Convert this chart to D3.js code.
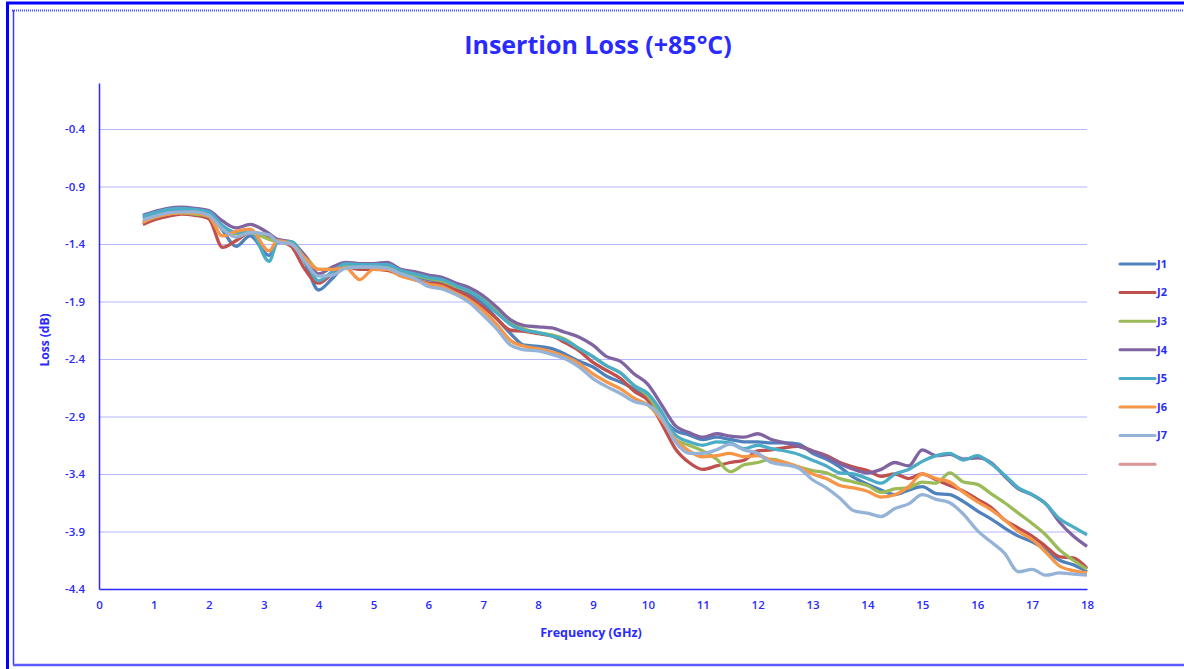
<html>
  <script src="https://d3js.org/d3.v7.min.js"></script>
  <style>
    body,
    html {
      margin: 0;
      padding: 0;
      background: white;
    }
    text {
      font-family: "Open Sans", sans-serif;
      fill: #2a2aff;
    }
  </style>
  <body>
    <svg id="chart" width="1184" height="669"></svg>
    <script>
      // frequency points (GHz) the curves were read at
      const freqs = [
        0.8, 1.0, 1.25, 1.5, 1.75, 2.0, 2.25, 2.5, 2.75, 3.1, 3.25, 3.5, 3.75,
        4.0, 4.25, 4.5, 4.75, 5.0, 5.25, 5.5, 5.75, 6.0, 6.25, 6.5, 6.75, 7.0,
        7.25, 7.5, 7.75, 8.0, 8.25, 8.5, 8.75, 9.0, 9.25, 9.5, 9.75, 10.0,
        10.25, 10.5, 10.75, 11.0, 11.25, 11.5, 11.75, 12.0, 12.25, 12.5, 12.75,
        13.0, 13.25, 13.5, 13.75, 14.0, 14.25, 14.5, 14.75, 15.0, 15.25, 15.5,
        15.75, 16.0, 16.25, 16.5, 16.75, 17.0, 17.25, 17.5, 17.75, 18.0,
      ];

      const j1 = [
        -1.17, -1.14, -1.11, -1.1, -1.1, -1.13, -1.28, -1.42, -1.33, -1.5,
        -1.38, -1.39, -1.56, -1.8, -1.7, -1.59, -1.59, -1.59, -1.6, -1.65,
        -1.68, -1.71, -1.73, -1.78, -1.84, -1.92, -2.05, -2.18, -2.28, -2.29,
        -2.31, -2.36, -2.42, -2.47, -2.55, -2.6, -2.66, -2.75, -2.9, -3.02,
        -3.06, -3.1, -3.08, -3.1, -3.12, -3.12, -3.13, -3.13, -3.14, -3.22,
        -3.27, -3.34, -3.43, -3.49, -3.54, -3.58, -3.54, -3.51, -3.57, -3.58,
        -3.64, -3.72, -3.79, -3.87, -3.94, -3.99, -4.06, -4.15, -4.19, -4.25,
      ];
      const j2 = [
        -1.23, -1.19, -1.16, -1.14, -1.15, -1.18, -1.43, -1.37, -1.3, -1.33,
        -1.37, -1.42, -1.62, -1.74, -1.66, -1.6, -1.62, -1.62, -1.63, -1.67,
        -1.71, -1.74, -1.75, -1.8, -1.86, -1.95, -2.05, -2.15, -2.16, -2.18,
        -2.2, -2.26, -2.33, -2.43, -2.5, -2.57, -2.68, -2.76, -2.96, -3.18,
        -3.3, -3.36, -3.33, -3.3, -3.28, -3.2, -3.19, -3.17, -3.16, -3.2,
        -3.24, -3.3, -3.34, -3.37, -3.42, -3.4, -3.44, -3.4, -3.45, -3.5,
        -3.55, -3.62, -3.69, -3.8, -3.87, -3.94, -4.03, -4.12, -4.13, -4.22,
      ];
      const j3 = [
        -1.21, -1.17, -1.14, -1.13, -1.14, -1.16, -1.27, -1.31, -1.3, -1.36,
        -1.38, -1.4, -1.5, -1.62, -1.62, -1.59, -1.6, -1.6, -1.6, -1.64,
        -1.67, -1.7, -1.72, -1.77, -1.81, -1.88, -1.98, -2.08, -2.14, -2.17,
        -2.19, -2.23, -2.31, -2.38, -2.46, -2.52, -2.63, -2.72, -2.9, -3.1,
        -3.15, -3.2, -3.27, -3.38, -3.32, -3.3, -3.27, -3.3, -3.34, -3.37,
        -3.39, -3.44, -3.47, -3.5, -3.56, -3.53, -3.52, -3.47, -3.48, -3.39,
        -3.47, -3.49, -3.57, -3.65, -3.74, -3.83, -3.93, -4.06, -4.15, -4.23,
      ];
      const j4 = [
        -1.15, -1.12, -1.09, -1.08, -1.09, -1.11, -1.2, -1.26, -1.23, -1.31,
        -1.36, -1.38, -1.5, -1.66, -1.6, -1.56, -1.57, -1.57, -1.56, -1.62,
        -1.64, -1.67, -1.69, -1.74, -1.78, -1.85, -1.95, -2.06, -2.11, -2.12,
        -2.13, -2.17, -2.21, -2.28, -2.38, -2.42, -2.53, -2.62, -2.8, -2.98,
        -3.04, -3.08, -3.05, -3.07, -3.08, -3.05, -3.1, -3.13, -3.16, -3.2,
        -3.25, -3.31, -3.36, -3.39, -3.36, -3.3, -3.33, -3.19, -3.24, -3.23,
        -3.27, -3.26, -3.3, -3.42, -3.53, -3.58, -3.66, -3.82, -3.94, -4.03,
      ];
      const j5 = [
        -1.16, -1.13, -1.1, -1.09, -1.1, -1.12, -1.24, -1.3, -1.28, -1.55,
        -1.39, -1.38, -1.53, -1.72, -1.64, -1.57, -1.58, -1.58, -1.58, -1.63,
        -1.66, -1.69, -1.71, -1.76, -1.81, -1.89, -2.0, -2.1, -2.15, -2.17,
        -2.2, -2.24, -2.31, -2.38, -2.46, -2.52, -2.63, -2.7, -2.86, -3.06,
        -3.12, -3.15, -3.12, -3.13, -3.18, -3.15, -3.18, -3.2, -3.23, -3.28,
        -3.33, -3.39, -3.4, -3.44, -3.48, -3.4, -3.36, -3.29, -3.24, -3.22,
        -3.28, -3.24, -3.31, -3.41, -3.52, -3.58, -3.66, -3.79, -3.86, -3.93,
      ];
      const j6 = [
        -1.21, -1.17, -1.14, -1.13, -1.13, -1.16, -1.33, -1.29, -1.27, -1.46,
        -1.37, -1.4, -1.52, -1.62, -1.62, -1.61, -1.71, -1.62, -1.62, -1.68,
        -1.71, -1.75, -1.77, -1.83, -1.89, -1.98, -2.1, -2.24, -2.29, -2.31,
        -2.34, -2.38, -2.44, -2.53, -2.6, -2.66, -2.74, -2.8, -2.93, -3.1,
        -3.2, -3.25, -3.24, -3.22, -3.25, -3.24, -3.28, -3.3, -3.34, -3.4,
        -3.44, -3.5, -3.52, -3.55, -3.6, -3.58, -3.51, -3.4, -3.44, -3.47,
        -3.56, -3.64, -3.71, -3.8, -3.9, -3.97, -4.08, -4.2, -4.24, -4.26,
      ];
      const j7 = [
        -1.19, -1.16, -1.13, -1.12, -1.12, -1.15, -1.27, -1.34, -1.3, -1.32,
        -1.38, -1.4, -1.55, -1.68, -1.67, -1.61, -1.6, -1.6, -1.61, -1.66,
        -1.7, -1.77, -1.79, -1.84, -1.91, -2.02, -2.14, -2.28, -2.32, -2.33,
        -2.36, -2.4, -2.47, -2.57, -2.64, -2.7, -2.77, -2.8, -2.91, -3.12,
        -3.22, -3.22, -3.19, -3.14, -3.19, -3.22, -3.3, -3.32, -3.35, -3.45,
        -3.52, -3.61, -3.72, -3.74, -3.77, -3.7, -3.66, -3.58, -3.62, -3.65,
        -3.75, -3.89, -3.99, -4.09, -4.25, -4.23, -4.28, -4.26, -4.27, -4.28,
      ];

      const seriesNames = ["J1", "J2", "J3", "J4", "J5", "J6", "J7", ""];
      const seriesValues = [j1, j2, j3, j4, j5, j6, j7, null];
      const colors = [
        "#4f81bd",
        "#c0504d",
        "#9bbb59",
        "#8064a2",
        "#4bacc6",
        "#f79646",
        "#95b3d7",
        "#d99694",
      ];

      const yTicks = [-0.4, -0.9, -1.4, -1.9, -2.4, -2.9, -3.4, -3.9, -4.4];
      const xTicks = [0, 1, 2, 3, 4, 5, 6, 7, 8, 9, 10, 11, 12, 13, 14, 15, 16, 17, 18];

      const svg = d3.select("#chart");

      // page frame bits from the original export
      svg.append("line").attr("x1", 7.5).attr("x2", 7.5).attr("y1", 2).attr("y2", 669)
        .attr("stroke", "#0000ff").attr("stroke-width", 3);
      svg.append("line").attr("x1", 6).attr("x2", 1184).attr("y1", 3).attr("y2", 3)
        .attr("stroke", "#0000ff").attr("stroke-width", 3);
      svg.append("line").attr("x1", 13.5).attr("x2", 13.5).attr("y1", 10).attr("y2", 665)
        .attr("stroke", "#3b3bff").attr("stroke-width", 1.5);
      svg.append("line").attr("x1", 12).attr("x2", 1184).attr("y1", 10.5).attr("y2", 10.5)
        .attr("stroke", "#4a4aff").attr("stroke-width", 2).attr("stroke-dasharray", "1,1");
      svg.append("line").attr("x1", 13).attr("x2", 1184).attr("y1", 665).attr("y2", 665)
        .attr("stroke", "#5a5aff").attr("stroke-width", 2.5);

      const margin = { top: 83, left: 99 };
      const width = 988;
      const height = 506;

      const x = d3.scaleLinear().domain([0, 18]).range([0, width]);
      const y = d3.scaleLinear().domain([-4.4, 0]).range([height, 0]);

      const g = svg
        .append("g")
        .attr("transform", `translate(${margin.left},${margin.top})`);

      // gridlines
      g.append("g")
        .call(d3.axisLeft(y).tickValues(yTicks.slice(0, -1)).tickSize(-width).tickFormat(""))
        .call((s) => s.select(".domain").remove())
        .selectAll("line")
        .attr("stroke", "#b4b4ff");

      // Left axis (plain hyphen for the minus, like the original)
      g.append("g")
        .call(
          d3.axisLeft(y).tickValues(yTicks).tickSize(0).tickSizeOuter(0).tickPadding(14)
            .tickFormat((d) => d.toFixed(1))
        )
        .call((s) => s.select(".domain").attr("stroke", "#2a2aff").attr("stroke-width", 1.5))
        .selectAll("text")
        .style("font-size", "11.5px")
        .style("font-weight", 600)
        .attr("fill", "#2a2aff");

      // Bottom axis
      g.append("g")
        .attr("transform", `translate(0,${height})`)
        .call(d3.axisBottom(x).tickValues(xTicks).tickSize(0).tickSizeOuter(0).tickPadding(12))
        .call((s) => s.select(".domain").attr("stroke", "#2a2aff").attr("stroke-width", 1.5))
        .selectAll("text")
        .style("font-size", "11.5px")
        .style("font-weight", 600)
        .attr("fill", "#2a2aff");

      const line = d3
        .line()
        .x((d, i) => x(freqs[i]))
        .y((d) => y(d))
        .curve(d3.curveMonotoneX);

      seriesValues.forEach((vals, i) => {
        if (!vals) return;
        g.append("path")
          .attr("d", line(vals))
          .attr("fill", "none")
          .attr("stroke", colors[i])
          .attr("stroke-width", 3.3)
          .attr("stroke-linejoin", "round");
      });

      // title + axis titles
      svg.append("text")
        .attr("x", 598).attr("y", 54)
        .attr("text-anchor", "middle")
        .style("font-size", "25px")
        .style("font-weight", 700)
        .text("Insertion Loss (+85°C)");

      svg.append("text")
        .attr("transform", "translate(49,340) rotate(-90)")
        .attr("text-anchor", "middle")
        .style("font-size", "12px")
        .style("font-weight", 700)
        .text("Loss (dB)");

      svg.append("text")
        .attr("x", 591).attr("y", 637)
        .attr("text-anchor", "middle")
        .style("font-size", "12.5px")
        .style("font-weight", 700)
        .text("Frequency (GHz)");

      // legend
      const legend = svg
        .append("g")
        .selectAll("g")
        .data(seriesNames)
        .join("g")
        .attr("transform", (d, i) => `translate(1120,${264 + i * 28.6})`);

      legend.append("line")
        .attr("x1", 0).attr("x2", 35)
        .attr("stroke", (d, i) => colors[i])
        .attr("stroke-width", 3)
        .attr("stroke-linecap", "round");

      legend.append("text")
        .attr("x", 37).attr("dy", "0.35em")
        .style("font-size", "11px")
        .style("font-weight", 700)
        .text((d) => d);
    </script>
  </body>
</html>
